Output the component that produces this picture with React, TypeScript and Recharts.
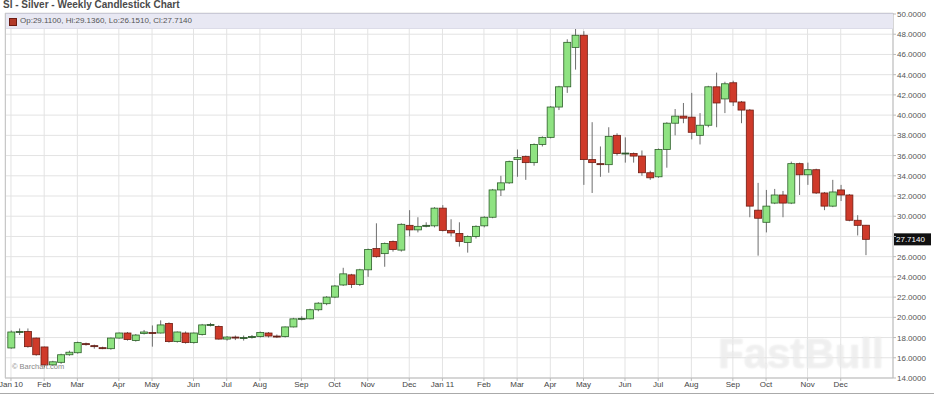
import React from 'react';
import { ComposedChart, Bar, XAxis, YAxis, CartesianGrid, ReferenceLine } from 'recharts';

// Weekly candles, Jan 2010 - Dec 2011 (week index 0..103)
const opens = [
  16.97, 18.55, 18.6, 17.95, 17.07, 15.3, 15.55, 16.3, 16.5, 17.4,
  17.2, 17.0, 16.9, 17.95, 18.45, 17.7, 18.4, 18.5, 18.45, 19.4,
  17.6, 18.45, 17.5, 18.3, 19.25, 19.1, 17.85, 18.05, 17.95, 18.0,
  18.1, 18.45, 18.15, 18.1, 19.05, 19.85, 19.85, 20.75, 21.35, 22.0,
  23.2, 24.2, 23.25, 24.7, 26.8, 26.3, 27.5, 26.65, 29.1, 28.65,
  29.05, 29.05, 30.8, 28.6, 28.3, 27.4, 28.0, 29.05, 29.9, 32.6,
  33.3, 35.6, 35.9, 35.3, 37.1, 37.8, 40.8, 42.8, 46.7, 47.9,
  35.6, 35.2, 35.1, 38.0, 36.2, 36.2, 35.95, 34.3, 33.9, 36.6,
  39.2, 39.9, 39.8, 38.0, 39.0, 42.8, 41.6, 43.2, 41.3, 40.5,
  30.6, 29.4, 31.3, 32.1, 31.3, 35.2, 34.1, 34.6, 32.3, 31.0,
  32.6, 32.1, 29.6, 29.11,
];
const highs = [
  18.7, 18.9, 18.9, 18.0, 17.1, 15.7, 16.4, 16.7, 17.6, 17.5,
  17.3, 17.1, 18.0, 18.5, 18.55, 18.35, 18.75, 19.2, 19.7, 19.5,
  18.6, 18.6, 18.5, 19.35, 19.45, 19.2, 18.15, 18.2, 18.2, 18.25,
  18.6, 18.55, 18.3, 19.1, 19.95, 20.1, 20.85, 21.5, 22.1, 23.2,
  24.9, 24.3, 24.8, 26.8, 29.3, 27.4, 27.6, 29.3, 30.6, 29.9,
  29.4, 30.9, 31.1, 29.7, 29.4, 28.1, 29.1, 30.0, 32.7, 34.0,
  35.5, 36.6, 36.0, 37.2, 37.9, 40.9, 42.9, 47.5, 49.7, 48.3,
  39.3, 36.9, 38.8, 38.2, 37.8, 36.3, 36.5, 34.5, 36.7, 39.3,
  40.6, 41.2, 42.2, 40.2, 42.9, 44.2, 43.3, 43.4, 41.4, 40.6,
  33.3, 32.6, 32.7, 32.5, 35.4, 35.3, 35.3, 34.7, 32.4, 33.6,
  33.1, 32.2, 30.1, 29.136,
];
const lows = [
  16.9, 18.25, 17.0, 16.2, 15.05, 15.2, 15.4, 16.2, 16.4, 17.2,
  16.9, 16.85, 16.8, 17.9, 17.7, 17.6, 18.3, 17.1, 18.4, 17.5,
  17.5, 17.4, 17.4, 18.2, 19.1, 17.8, 17.7, 17.75, 17.7, 17.9,
  18.0, 18.0, 17.95, 18.0, 19.0, 19.7, 19.8, 20.6, 21.2, 21.9,
  23.1, 22.9, 23.1, 24.0, 25.9, 25.0, 26.5, 26.5, 28.0, 28.4,
  28.9, 28.9, 28.5, 28.0, 27.0, 26.4, 27.8, 28.9, 29.8, 32.0,
  33.2, 33.9, 33.6, 35.0, 36.9, 37.7, 40.5, 42.2, 44.5, 33.1,
  32.3, 33.9, 34.3, 36.0, 35.3, 35.3, 34.0, 33.6, 33.8, 34.8,
  38.0, 39.2, 37.6, 37.1, 38.8, 38.8, 40.2, 40.9, 39.2, 29.9,
  26.1, 28.4, 31.2, 29.9, 31.2, 32.1, 33.1, 32.2, 30.6, 30.9,
  31.5, 29.5, 28.1, 26.151,
];
const closes = [
  18.55, 18.6, 17.1, 16.3, 15.29, 15.6, 16.3, 16.55, 17.5, 17.3,
  17.1, 16.95, 17.95, 18.45, 17.8, 18.25, 18.55, 18.45, 19.25, 17.6,
  18.55, 17.5, 18.45, 19.25, 19.3, 17.85, 18.05, 17.95, 18.0, 18.1,
  18.5, 18.15, 18.1, 19.05, 19.85, 19.9, 20.75, 21.4, 22.0, 23.1,
  24.3, 23.25, 24.7, 26.7, 26.0, 27.3, 26.7, 29.2, 28.65, 29.0,
  29.1, 30.8, 28.6, 28.35, 27.5, 28.0, 29.0, 29.9, 32.6, 33.3,
  35.4, 35.8, 35.3, 37.1, 37.8, 40.8, 42.8, 47.2, 47.9, 35.6,
  35.3, 35.1, 37.9, 36.2, 36.25, 35.95, 34.3, 33.8, 36.6, 39.2,
  39.9, 39.7, 38.3, 39.0, 42.8, 41.2, 43.1, 41.3, 40.5, 31.0,
  29.8, 31.0, 32.1, 31.3, 35.2, 34.1, 34.6, 32.3, 31.0, 32.4,
  32.1, 29.6, 29.1, 27.714,
];

const monthTickWeeks = [0, 4, 8, 13, 17, 22, 26, 30, 35, 39, 43, 48, 52, 57, 61, 65, 69, 74, 78, 82, 87, 91, 96, 100];
const monthTickLabels = ['Jan 10', 'Feb', 'Mar', 'Apr', 'May', 'Jun', 'Jul', 'Aug', 'Sep', 'Oct', 'Nov', 'Dec',
  'Jan 11', 'Feb', 'Mar', 'Apr', 'May', 'Jun', 'Jul', 'Aug', 'Sep', 'Oct', 'Nov', 'Dec'];
const yTicks = [14, 16, 18, 20, 22, 24, 26, 28, 30, 32, 34, 36, 38, 40, 42, 44, 46, 48, 50];

const data = opens.map((o, i) => ({
  i,
  o,
  h: highs[i],
  l: lows[i],
  c: closes[i],
  range: [lows[i], highs[i]],
}));

const last = data[data.length - 1];

const FONT = '"Liberation Sans", Arial, sans-serif';

const Candle = (props: any) => {
  let { x, y, width, height } = props;
  const { o, h, l, c } = props.payload;
  if (height < 0) { y += height; height = -height; }
  const ratio = h - l === 0 ? 0 : height / (h - l);
  const yOf = (v: number) => y + (h - v) * ratio;
  const up = c >= o;
  const top = yOf(Math.max(o, c));
  const bot = yOf(Math.min(o, c));
  const cx = x + width / 2;
  const bh = Math.max(bot - top, 1);
  return (
    <g>
      <line x1={cx} x2={cx} y1={y} y2={y + height} stroke="#6e6e6e" strokeWidth={1} />
      <rect
        x={x}
        y={top}
        width={width}
        height={bh}
        fill={bh <= 1.5 ? '#333' : up ? '#8fe382' : '#cf3a2a'}
        stroke={up ? '#2c5e28' : '#6e1c12'}
        strokeWidth={0.8}
      />
    </g>
  );
};

const YTick = (p: any) => {
  const v = p.payload.value;
  if (Math.abs(v - last.c) < 0.7) return <g />;
  return (
    <text x={p.x} y={p.y} dy={3} fontSize={8} fill="#555" fontFamily={FONT} textAnchor="start">
      {v.toFixed(4)}
    </text>
  );
};

const PriceTag = (p: any) => {
  const vb = p.viewBox || {};
  const x0 = (vb.x || 0) + (vb.width || 0) + 1;
  const yy = vb.y || 0;
  return (
    <g>
      <rect x={x0} y={yy - 6} width={37} height={12} fill="#111" />
      <text x={x0 + 2} y={yy + 3} fill="#fff" fontSize={8} fontFamily={FONT}>
        {last.c.toFixed(4)}
      </text>
    </g>
  );
};

export default function App() {
  return (
    <div style={{ position: 'absolute', left: 0, top: 0, width: 934, height: 396, background: '#fff', overflow: 'hidden', fontFamily: FONT }}>
      <div style={{ position: 'absolute', left: 3, top: -1, fontSize: 10, fontWeight: 'bold', color: '#4a4a4a', whiteSpace: 'nowrap' }}>
        SI - Silver - Weekly Candlestick Chart
      </div>
      <ComposedChart width={934} height={396} data={data} margin={{ top: 13, right: 0, left: 5, bottom: 0 }}>
        <CartesianGrid stroke="#e3e3e3" strokeWidth={1} />
        <XAxis
          dataKey="i"
          type="number"
          domain={[-0.72, 106.3]}
          allowDataOverflow
          ticks={monthTickWeeks}
          interval={0}
          tickFormatter={(v: number) => monthTickLabels[monthTickWeeks.indexOf(v)]}
          height={18}
          tickSize={3}
          tickMargin={0}
          stroke="#bbb"
          tick={{ fontSize: 8, fill: '#444', fontFamily: FONT }}
        />
        <YAxis
          orientation="right"
          domain={[14, 50.1]}
          allowDataOverflow
          ticks={yTicks}
          interval={0}
          width={41}
          tickSize={3}
          tickMargin={1}
          stroke="#bbb"
          tick={<YTick />}
        />
        <Bar dataKey="range" barSize={7} shape={<Candle />} isAnimationActive={false} />
        <ReferenceLine y={last.c} stroke="none" ifOverflow="visible" label={<PriceTag />} />
      </ComposedChart>
      {/* legend band */}
      <div style={{ position: 'absolute', left: 5, top: 13, width: 888, height: 14, background: '#e8e8f3', borderTop: '1px solid #c9c9d6', borderBottom: '1px solid #dcdce8' }}>
        <div style={{ position: 'absolute', left: 4, top: 4, width: 6, height: 6, background: '#b23a2a', border: '1px solid #6e1c12' }} />
        <div style={{ position: 'absolute', left: 15, top: 2, fontSize: 8, color: '#555', whiteSpace: 'nowrap' }}>
          {`Op:${last.o.toFixed(4)}, Hi:${last.h.toFixed(4)}, Lo:${last.l.toFixed(4)}, Cl:${last.c.toFixed(4)}`}
        </div>
      </div>
      {/* left plot border */}
      <div style={{ position: 'absolute', left: 5, top: 13, width: 0, height: 365, borderLeft: '1px solid #c8c8c8' }} />
      <div style={{ position: 'absolute', left: 12, top: 362, fontSize: 7.5, color: '#888', whiteSpace: 'nowrap' }}>© Barchart.com</div>
      <div style={{ position: 'absolute', left: 718, top: 330, fontSize: 42, fontWeight: 'bold', color: 'rgba(246,246,246,0.55)', textShadow: '0 0 2px rgba(190,190,190,0.35)', whiteSpace: 'nowrap', pointerEvents: 'none' }}>
        FastBull
      </div>
      <div style={{ position: 'absolute', left: 0, top: 393, width: 934, height: 0, borderTop: '1px solid #aaa' }} />
    </div>
  );
}
